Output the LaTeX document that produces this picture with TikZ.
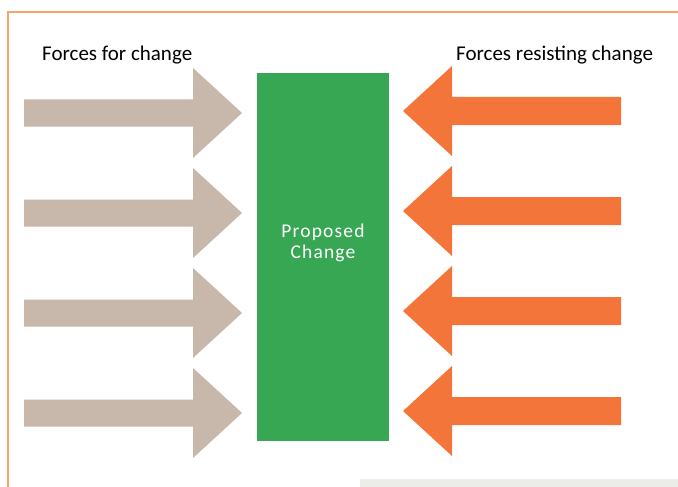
\documentclass[tikz,border=0pt]{standalone}
\usepackage{fontspec}
\setmainfont{Carlito}
\definecolor{tanc}{HTML}{C7B8AB}
\definecolor{orangec}{HTML}{F47539}
\definecolor{greenc}{HTML}{38A754}
\definecolor{borderc}{HTML}{F9A66C}
\definecolor{bandc}{HTML}{ECECE8}
\begin{document}
\begin{tikzpicture}[x=1pt,y=-1pt,
  forarrow/.style={fill=tanc},
  resarrow/.style={fill=orangec},
  heading/.style={font=\fontsize{21}{25}\selectfont, text=black, inner sep=0pt, anchor=base west}]
\useasboundingbox (0,0) rectangle (678,487);
\fill[white] (0,0) rectangle (678,487);
% page band at bottom
\fill[bandc] (360,479) rectangle (678,487);
% border
\draw[borderc, line width=1.8pt] (8,487) -- (8,12) -- (678,12);
% headings
\node[heading] (lh) at (42,61) {Forces for change};
\node[heading] (rh) at (456,61) {Forces resisting change};
% central box
\node[fill=greenc, minimum width=132pt, minimum height=368pt, inner sep=0pt, anchor=north west]
  (pc) at (257,73) {};
\node[text=white, align=center, inner sep=0pt,
  font=\fontsize{19.5}{21}\selectfont\addfontfeatures{LetterSpace=6}]
  (pct) at (323,243) {Proposed\\Change};
% arrows
\foreach \cy in {113,213,313,413}{
  \fill[forarrow] (24,\cy-13.5) -- (193,\cy-13.5) -- (193,\cy-45) -- (242,\cy) -- (193,\cy+45)
     -- (193,\cy+13.5) -- (24,\cy+13.5) -- cycle;
}
\foreach \cy in {111,211,311,411}{
  \fill[resarrow] (621,\cy-14) -- (452,\cy-14) -- (452,\cy-45) -- (403,\cy) -- (452,\cy+45)
     -- (452,\cy+14) -- (621,\cy+14) -- cycle;
}
\end{tikzpicture}
\end{document}
